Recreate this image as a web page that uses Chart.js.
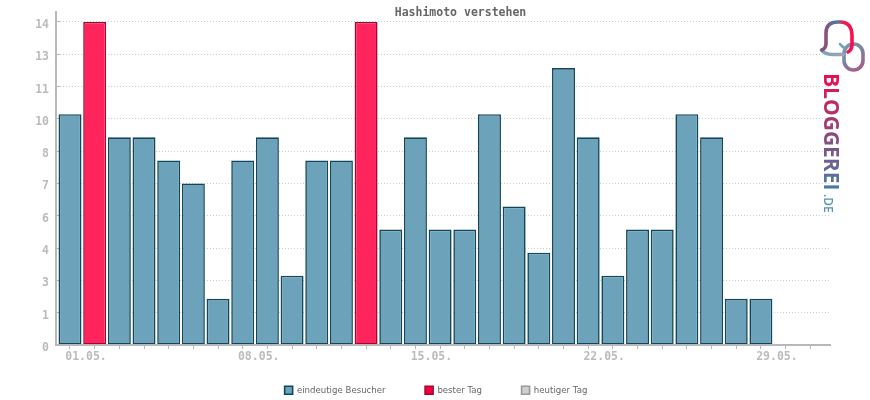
<!DOCTYPE html>
<html>
<head>
<meta charset="utf-8">
<title>Hashimoto verstehen</title>
<script src="https://cdn.jsdelivr.net/npm/chart.js@4"></script>
<style>
    html, body { margin: 0; padding: 0; background: #fff; }
    #wrap { width: 870px; height: 400px; }
</style>
</head>
<body>
<div id="wrap"><canvas id="chart" width="870" height="400"></canvas></div>
<script>
const days = ['01.05.', '02.05.', '03.05.', '04.05.', '05.05.', '06.05.', '07.05.', '08.05.',
    '09.05.', '10.05.', '11.05.', '12.05.', '13.05.', '14.05.', '15.05.', '16.05.',
    '17.05.', '18.05.', '19.05.', '20.05.', '21.05.', '22.05.', '23.05.', '24.05.',
    '25.05.', '26.05.', '27.05.', '28.05.', '29.05.', '30.05.', '31.05.'];
const visitors = [10, null, 9, 9, 8, 7, 2, 8, 9, 3, 8, 8, null, 5, 9, 5,
    5, 10, 6, 4, 12, 9, 3, 5, 5, 10, 9, 2, 2, null, null];
const bestDays = [null, 14, null, null, null, null, null, null, null, null, null, null, 14, null, null, null,
    null, null, null, null, null, null, null, null, null, null, null, null, null, null, null];
const today = [];
const yTicks = [0, 1.4, 2.8, 4.2, 5.6, 7, 8.4, 9.8, 11.2, 12.6, 14];
const yTickLabels = ['0', '1', '3', '4', '6', '7', '8', '10', '11', '13', '14'];
const labelEvery = 7;

const axisGrey = '#b8b8b8';
const tickFont = { family: '"DejaVu Sans Mono"', size: 11.5, weight: 'bold' };

function toPoints(values) {
    return values.map((v, i) => ({ x: i, y: v }));
}

// title and legend sit where the original has them, not where the layout puts them
const placeBoxes = {
    id: 'placeBoxes',
    afterLayout(chart) {
        chart.titleBlock.left = 91;
        chart.legend.top = 346.5;
        chart.legend.left += 21;
        chart.legend.right += 21;
    }
};

// logo in the top right corner
const logo = {
    id: 'logo',
    afterDraw(chart) {
        const ctx = chart.ctx;
        ctx.save();
        ctx.lineCap = 'round';
        ctx.lineJoin = 'round';
        ctx.lineWidth = 3.6;

        const ring = ctx.createLinearGradient(843, 43, 864, 71);
        ring.addColorStop(0, '#6fa3b8');
        ring.addColorStop(0.5, '#7f7f9c');
        ring.addColorStop(1, '#b0557f');
        ctx.strokeStyle = ring;
        ctx.beginPath();
        ctx.roundRect(844, 44, 19, 26, 9.5);
        ctx.stroke();

        const tail = ctx.createLinearGradient(821, 50, 848, 50);
        tail.addColorStop(0, '#6fa3b8');
        tail.addColorStop(1, '#a9a4bc');
        ctx.strokeStyle = tail;
        ctx.beginPath();
        ctx.moveTo(821.5, 50);
        ctx.quadraticCurveTo(825, 54.5, 832, 54.5);
        ctx.lineTo(843, 54.5);
        ctx.stroke();

        const bubble = ctx.createLinearGradient(825, 30, 852, 30);
        bubble.addColorStop(0, '#8a4f7f');
        bubble.addColorStop(0.45, '#4f7b9c');
        bubble.addColorStop(0.65, '#e0245e');
        bubble.addColorStop(1, '#ff0a4a');
        ctx.strokeStyle = bubble;
        ctx.beginPath();
        ctx.moveTo(822, 50);
        ctx.quadraticCurveTo(826, 48, 826, 44);
        ctx.lineTo(826, 33);
        ctx.quadraticCurveTo(826, 22, 838, 22);
        ctx.lineTo(840, 22);
        ctx.quadraticCurveTo(852, 22, 852, 36);
        ctx.lineTo(852, 44);
        ctx.quadraticCurveTo(852, 50, 848, 52);
        ctx.stroke();

        ctx.strokeStyle = '#6fa3b8';
        ctx.lineWidth = 2.6;
        ctx.beginPath();
        ctx.moveTo(840, 44);
        ctx.quadraticCurveTo(842, 47, 845, 48);
        ctx.stroke();

        ctx.translate(824, 73);
        ctx.rotate(Math.PI / 2);
        const word = ctx.createLinearGradient(0, 0, 118, 0);
        word.addColorStop(0, '#ee0b4f');
        word.addColorStop(0.55, '#8a4a7e');
        word.addColorStop(1, '#477ea4');
        ctx.fillStyle = word;
        ctx.textBaseline = 'alphabetic';
        ctx.textAlign = 'left';
        ctx.font = '700 21px "Open Sans"';
        ctx.fillText('BLOGGEREI', 0, 0);
        ctx.fillStyle = '#5b93b0';
        ctx.font = '600 12px "Open Sans"';
        ctx.fillText('.DE', 121, 0);
        ctx.restore();
    }
};

new Chart(document.getElementById('chart').getContext('2d'), {
    type: 'bar',
    data: {
        datasets: [{
            label: 'eindeutige Besucher',
            data: toPoints(visitors),
            backgroundColor: '#6ca3bb',
            borderColor: '#12465a',
            borderWidth: 1.6,
            borderSkipped: false
        }, {
            label: 'bester Tag',
            data: toPoints(bestDays),
            backgroundColor: '#ff245b',
            borderColor: '#a5062f',
            borderWidth: 1.6,
            borderSkipped: false
        }, {
            label: 'heutiger Tag',
            data: toPoints(today),
            backgroundColor: '#cfcfcf',
            borderColor: '#999999',
            borderWidth: 1.6
        }]
    },
    options: {
        responsive: false,
        animation: false,
        devicePixelRatio: 1,
        layout: { autoPadding: false, padding: { left: 0, right: 40, top: 0, bottom: 0 } },
        datasets: { bar: { grouped: false, barPercentage: 0.93, categoryPercentage: 1 } },
        plugins: {
            tooltip: { enabled: false },
            title: {
                display: true,
                text: 'Hashimoto verstehen',
                color: '#666666',
                font: { family: '"DejaVu Sans Mono"', size: 11.5, weight: 'bold', lineHeight: 1 },
                padding: { top: 7, bottom: -6.5 }
            },
            legend: {
                position: 'bottom',
                maxHeight: 20,
                labels: {
                    boxWidth: 8,
                    boxHeight: 8,
                    padding: 39.5,
                    color: '#666666',
                    font: { family: '"DejaVu Sans"', size: 8.6 },
                    generateLabels(chart) {
                        const items = Chart.defaults.plugins.legend.labels.generateLabels(chart);
                        items[1].fillStyle = '#f5003d';
                        return items;
                    }
                }
            }
        },
        scales: {
            x: {
                type: 'linear',
                offset: false,
                min: -0.567,
                max: 30.8,
                afterBuildTicks(scale) {
                    scale.ticks = days.map((d, i) => ({ value: i }));
                },
                afterFit(scale) {
                    scale.height = 35;
                    scale.paddingLeft = 0;
                    scale.paddingRight = 0;
                },
                grid: { drawOnChartArea: false, offset: false, tickLength: 4, tickColor: axisGrey, tickWidth: 1 },
                border: { color: axisGrey, width: 2, z: 1 },
                ticks: {
                    autoSkip: false,
                    maxRotation: 0,
                    padding: 1,
                    labelOffset: 16,
                    color: '#bbbbbb',
                    font: tickFont,
                    callback(value, index) {
                        return index % labelEvery === 0 ? days[index] : '';
                    }
                }
            },
            y: {
                min: 0,
                max: 14.43,
                afterBuildTicks(scale) {
                    scale.ticks = yTicks.map(v => ({ value: v }));
                },
                afterFit(scale) {
                    scale.width = 56;
                    scale.paddingTop = 0;
                    scale.paddingBottom = 0;
                },
                grid: {
                    color: '#cccccc',
                    lineWidth: 1,
                    tickLength: -4,
                    tickColor: axisGrey,
                    tickBorderDash: []
                },
                border: { color: axisGrey, width: 2, dash: [1, 2] },
                ticks: {
                    padding: 11,
                    labelOffset: 3,
                    color: '#bbbbbb',
                    font: tickFont,
                    callback(value, index) {
                        return yTickLabels[index];
                    }
                }
            }
        }
    },
    plugins: [placeBoxes, logo]
});
</script>
</body>
</html>
